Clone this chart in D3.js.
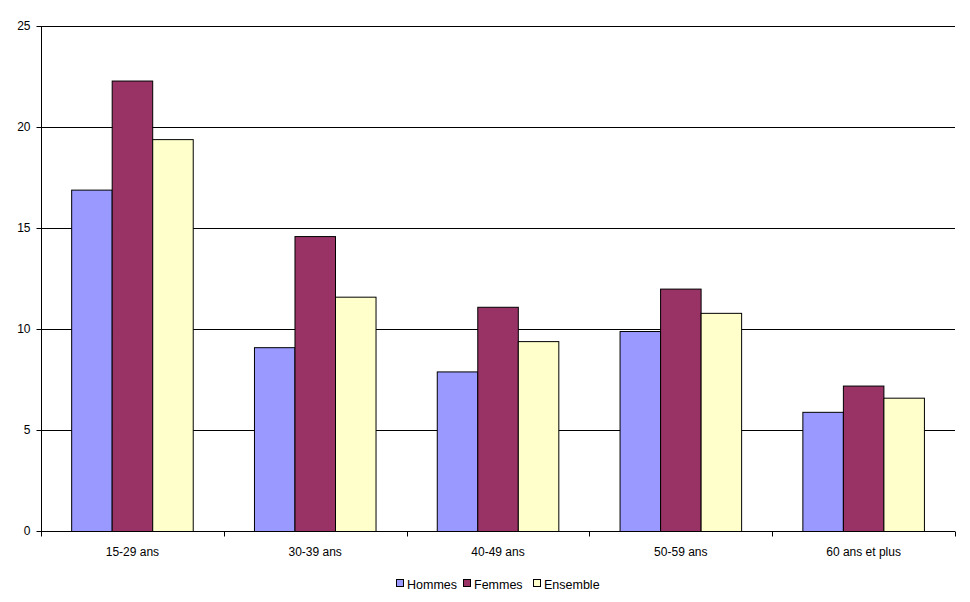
<!DOCTYPE html>
<html>
<head>
<meta charset="utf-8">
<script src="https://cdn.jsdelivr.net/npm/d3@7"></script>
<style>
  body { margin: 0; background: #fff; }
  svg text { font-family: "Liberation Sans", Arial, sans-serif; font-size: 12px; fill: #000; }
</style>
</head>
<body>
<div class="chart"></div>
<script>
// data
var categories = ["15-29 ans", "30-39 ans", "40-49 ans", "50-59 ans", "60 ans et plus"];
var seriesNames = ["Hommes", "Femmes", "Ensemble"];
var hommes = [16.9, 9.1, 7.9, 9.9, 5.9];
var femmes = [22.3, 14.6, 11.1, 12.0, 7.2];
var ensemble = [19.4, 11.6, 9.4, 10.8, 6.6];
var yTicks = [0, 5, 10, 15, 20, 25];
var colors = ["#9999FF", "#993366", "#FFFFCC"];

var svgWidth = 970, svgHeight = 602;
var margin = {top: 26, left: 41, right: 15, bottom: 71};
var width = svgWidth - margin.left - margin.right;
var height = svgHeight - margin.top - margin.bottom;

var svg = d3.select(".chart").append("svg")
  .attr("width", svgWidth)
  .attr("height", svgHeight);
var chartGroup = svg.append("g")
  .attr("transform", `translate(${margin.left},${margin.top})`);

var x0 = d3.scaleBand().domain(categories).range([0, width]).paddingInner(0).paddingOuter(0);
var x1 = d3.scaleBand().domain(seriesNames)
  .range([x0.bandwidth() * 0.165, x0.bandwidth() * 0.83]);
var y = d3.scaleLinear().domain([0, 25]).range([height, 0]);

// gridlines
chartGroup.selectAll(".grid").data(yTicks.filter(d => d > 0)).enter()
  .append("line")
  .attr("x1", 0).attr("x2", width)
  .attr("y1", d => Math.round(y(d)) + 0.5).attr("y2", d => Math.round(y(d)) + 0.5)
  .attr("stroke", "#000").attr("stroke-width", 1);

// bars
var table = categories.map(function(c, i){
  return {cat: c, vals: [hommes[i], femmes[i], ensemble[i]]};
});
var groups = chartGroup.selectAll(".grp").data(table).enter()
  .append("g").attr("transform", d => `translate(${x0(d.cat)},0)`);
groups.selectAll("rect").data(d => d.vals.map((v, j) => ({name: seriesNames[j], v: v, c: colors[j]})))
  .enter().append("rect")
  .attr("x", d => x1(d.name) + 0.5)
  .attr("y", d => y(d.v) + 0.5)
  .attr("width", x1.bandwidth())
  .attr("height", d => height - y(d.v))
  .attr("fill", d => d.c)
  .attr("stroke", "#000").attr("stroke-width", 1);

// y axis
var yAxis = d3.axisLeft(y).tickValues(yTicks).tickSize(5).tickPadding(6);
var ya = chartGroup.append("g").attr("transform", "translate(0.5,0)").call(yAxis);
ya.select(".domain").attr("d", `M0,0V${height}`);
ya.selectAll("text").style("font-size", "12px");

// x axis
var xa = chartGroup.append("g").attr("transform", `translate(0,${Math.round(height) + 0.5})`);
xa.append("line").attr("x1", 0).attr("x2", width).attr("stroke", "#000");
xa.selectAll(".tk").data(d3.range(categories.length + 1)).enter()
  .append("line")
  .attr("x1", i => Math.round(i * x0.bandwidth()) + 0.5)
  .attr("x2", i => Math.round(i * x0.bandwidth()) + 0.5)
  .attr("y1", 0).attr("y2", 5).attr("stroke", "#000");
xa.selectAll(".lbl").data(categories).enter()
  .append("text")
  .attr("x", d => x0(d) + x0.bandwidth() / 2)
  .attr("y", 24)
  .attr("text-anchor", "middle")
  .text(d => d);

// legend
var legend = svg.append("g").attr("transform", "translate(396,584)");
var lx = [0, 67, 137];
seriesNames.forEach(function(n, i){
  var g = legend.append("g").attr("transform", `translate(${lx[i]},0)`);
  g.append("rect").attr("x", 0.5).attr("y", -4.5).attr("width", 7).attr("height", 7)
    .attr("fill", colors[i]).attr("stroke", "#000");
  g.append("text").attr("x", 11).attr("y", 4.5).style("font-size", "12.5px").text(n);
});
</script>
</body>
</html>
